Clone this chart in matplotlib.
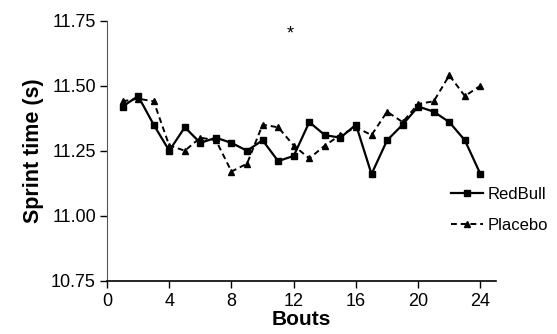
import matplotlib
matplotlib.use("Agg")
import matplotlib.pyplot as plt

bouts = list(range(1, 25))
redbull = [11.42, 11.46, 11.35, 11.25, 11.34, 11.28, 11.30, 11.28, 11.25, 11.29, 11.21, 11.23,
           11.36, 11.31, 11.30, 11.35, 11.16, 11.29, 11.35, 11.42, 11.40, 11.36, 11.29, 11.16]
placebo = [11.44, 11.45, 11.44, 11.27, 11.25, 11.30, 11.29, 11.17, 11.20, 11.35, 11.34, 11.27,
           11.22, 11.27, 11.31, 11.34, 11.31, 11.40, 11.36, 11.43, 11.44, 11.54, 11.46, 11.50]
x_ticks = [0, 4, 8, 12, 16, 20, 24]
y_ticks = [10.75, 11.00, 11.25, 11.50, 11.75]
star_x, star_y = 11.8, 11.70

plt.rcParams['font.family'] = ['Liberation Sans', 'DejaVu Sans']

fig = plt.figure(figsize=(5.57, 3.34), dpi=100)
ax = fig.add_axes([107/557, 1 - 280.7/334, (496-107)/557, (280.7-20.7)/334])

ax.plot(bouts, redbull, color='black', linestyle='-', linewidth=1.6,
        marker='s', markersize=5, label='RedBull')
ax.plot(bouts, placebo, color='black', linestyle=(0, (3, 2)), linewidth=1.4,
        marker='^', markersize=4.5, label='Placebo')

ax.text(star_x, star_y, '*', ha='center', va='center', fontsize=13)

ax.set_xlim(0, 25)
ax.set_ylim(10.75, 11.75)
ax.set_xticks(x_ticks)
ax.set_yticks(y_ticks)
ax.set_yticklabels([f"{v:.2f}" for v in y_ticks])
ax.tick_params(direction='out', length=5, width=1, labelsize=13, colors='black', pad=3)
ax.tick_params(axis='x', pad=4)
for s in ['top', 'right']:
    ax.spines[s].set_visible(False)
ax.spines['left'].set_color('#555555')
ax.spines['bottom'].set_linewidth(1.2)

ax.set_xlabel('Bouts', fontsize=15, fontweight='bold', labelpad=0)
ax.set_ylabel('Sprint time (s)', fontsize=15.5, fontweight='bold', labelpad=5)

leg = ax.legend(loc='center left', bbox_to_anchor=(451/557, 1 - 210/334),
                bbox_transform=fig.transFigure, frameon=False, fontsize=12,
                handlelength=1.9, handletextpad=0.3, labelspacing=1.0,
                borderpad=0, borderaxespad=0)

fig.savefig('out.png', dpi=100)
